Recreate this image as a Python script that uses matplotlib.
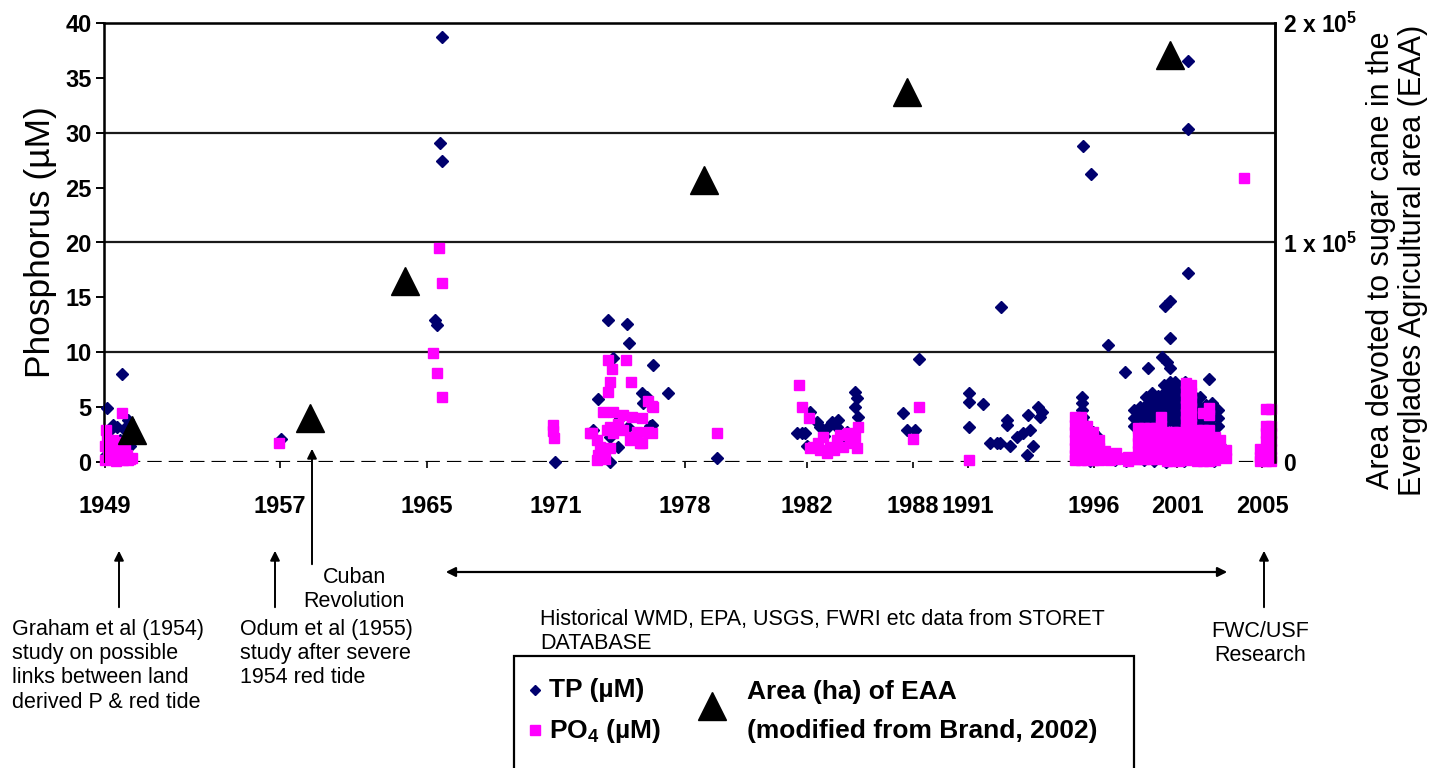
import numpy as np
import matplotlib
matplotlib.use("Agg")
import matplotlib.pyplot as plt
from matplotlib.lines import Line2D
from matplotlib.patches import Rectangle

plt.rcParams["font.family"] = ["Liberation Sans", "DejaVu Sans"]
plt.rcParams["mathtext.fontset"] = "custom"
plt.rcParams["mathtext.rm"] = "Liberation Sans"
plt.rcParams["mathtext.bf"] = "Liberation Sans:bold"

# x = position along the sample record (category axis, not linear in time)
year_labels = ["1949", "1957", "1965", "1971", "1978", "1982", "1988", "1991", "1996", "2001", "2005"]
year_pos = [1, 176, 323, 452, 581, 703, 809, 864, 990, 1073, 1158]

# total phosphorus (uM)
tp_pos = [3, 18, 13, 6, 11, 24, 26, 2, 16, 22, 9, 20,
          177,
          338, 336, 338, 331, 333,
          451,
          504, 523, 525, 509, 549, 564, 538, 494, 539, 546, 524, 516, 506, 514, 506, 489, 543, 548,
          613,
          698, 701, 706, 716, 723, 734, 733, 743, 751, 753, 751, 754, 703, 693, 728, 713, 720, 740,
          799, 803, 811, 815,
          865, 865, 879, 865, 897, 886, 896, 903, 903, 906, 913, 919, 924, 926, 923, 929, 934, 936, 938, 893,
          979, 987, 978, 978, 978, 979, 981, 985, 989, 994, 998, 999, 986, 1011, 1022,
          1084, 1084, 1084, 1061, 1066, 1066, 1004, 1021, 1044, 1058, 1063, 1066, 1105, 1071, 1081, 1074, 1078, 1121, 1117,
          1030, 1030, 1030,
          1036, 1036, 1036,
          1042, 1042, 1042, 1042,
          1048, 1048, 1048, 1048, 1048,
          1054, 1054, 1054, 1054, 1054,
          1060, 1060, 1060, 1060, 1060, 1060,
          1066, 1066, 1066, 1066, 1066, 1066,
          1072, 1072, 1072, 1072, 1072, 1072, 1072,
          1078, 1078, 1078, 1078, 1078, 1078,
          1090, 1090, 1090, 1090, 1090,
          1096, 1096, 1096, 1096,
          1102, 1102, 1102,
          1108, 1108, 1108, 1108, 1108,
          1114, 1114, 1114,
          1040, 1050, 1062, 1070, 1096, 1110, 1100, 1080]
tp_val = [4.9, 8.0, 3.2, 2.9, 1.5, 3.8, 1.5, 0.6, 2.0, 0.5, 3.4, 3.0,
          2.1,
          38.7, 29.1, 27.4, 12.9, 12.5,
          0.0,
          12.9, 12.6, 10.8, 9.5, 8.8, 6.3, 6.3, 5.7, 5.4, 3.3, 3.2, 4.0, 2.3, 1.4, 0.0, 2.9, 5.9, 3.4,
          0.4,
          2.6, 2.6, 4.6, 3.2, 3.1, 3.8, 3.2, 2.7, 6.4, 5.8, 5.0, 4.1, 1.5, 2.6, 3.6, 3.6, 2.4, 2.2,
          4.5, 2.9, 2.9, 9.4,
          6.3, 5.5, 5.3, 3.2, 14.1, 1.7, 1.7, 3.8, 3.4, 1.5, 2.3, 2.6, 4.3, 2.9, 0.6, 1.5, 5.0, 4.1, 4.6, 1.7,
          28.8, 26.2, 5.9, 5.4, 4.7, 4.1, 3.5, 3.0, 2.7, 2.3, 1.1, 0.4, 0.1, 0.2, 0.1,
          36.5, 30.3, 17.2, 14.2, 14.7, 11.3, 10.7, 8.2, 8.6, 9.6, 9.1, 8.6, 7.6, 7.3, 7.3, 6.6, 6.9, 1.1, 0.5,
          4.7, 4.0, 3.3,
          5.0, 4.3, 3.6,
          5.9, 5.2, 4.5, 3.8,
          6.3, 5.6, 4.9, 4.2, 3.5,
          6.0, 5.3, 4.6, 3.9, 3.2,
          7.0, 6.3, 5.6, 4.9, 4.2, 3.5,
          7.3, 6.6, 5.9, 5.2, 4.5, 3.8,
          7.0, 6.3, 5.6, 4.9, 4.2, 3.5, 2.8,
          6.5, 5.8, 5.1, 4.4, 3.7, 3.0,
          6.0, 5.3, 4.6, 3.9, 3.2,
          5.9, 5.0, 4.3, 3.6,
          5.2, 4.5, 3.8,
          5.4, 4.7, 4.0, 3.3, 2.6,
          4.7, 4.0, 3.3,
          0.2, 0.1, 0.0, 0.3, 0.2, 0.1, 0.4, 0.1]

# phosphate (uM)
po4_pos = [2, 1, 4, 6, 8, 9, 11, 13, 14, 16, 18, 19, 21, 23, 26, 28, 1, 7, 12, 3, 17, 24,
           175,
           335, 338, 329, 333, 338,
           449, 449, 450,
           504, 522, 508, 527, 506, 504, 544, 548, 499, 509, 519, 528, 538, 506, 503, 488, 493, 509,
           533, 544, 528, 538, 496, 506, 494, 501, 493, 526, 519, 486, 549, 548, 536, 514, 498,
           613,
           695, 698, 705, 706, 714, 723, 726, 733, 739, 746, 751, 754, 753, 719, 709, 736, 744, 730, 716,
           815, 809,
           865,
           971, 971, 971, 971, 971, 971, 971,
           977, 977, 977, 977, 977, 977, 977,
           983, 983, 983, 983, 983, 983,
           989, 989, 989, 989, 989,
           995, 995, 995, 995,
           1001, 1001,
           1006, 1006, 1012, 1012, 1018, 1024, 1024, 1030,
           1034, 1034, 1034, 1034, 1034,
           1040, 1040, 1040, 1040, 1040,
           1046, 1046, 1046, 1046, 1046,
           1052, 1052, 1052, 1052, 1052,
           1057, 1057, 1057, 1057, 1057, 1057,
           1063, 1063, 1063, 1063, 1063,
           1069, 1069, 1069, 1069, 1069,
           1075, 1075, 1075, 1075, 1075,
           1082, 1082, 1082, 1082, 1082, 1082, 1082, 1082, 1082, 1082, 1082,
           1087, 1087, 1087, 1087, 1087, 1087, 1087, 1087, 1087, 1087,
           1093, 1093, 1093, 1093, 1093,
           1099, 1099, 1099, 1099, 1099, 1099,
           1105, 1105, 1105, 1105, 1105, 1105, 1105,
           1111, 1111, 1111, 1111,
           1116, 1116, 1116,
           1122, 1122,
           1140,
           1156, 1156, 1156,
           1162, 1162, 1162, 1162, 1162, 1162, 1162,
           1167, 1167, 1167, 1167, 1167, 1167, 1167]
po4_val = [2.9, 1.5, 0.6, 1.1, 0.3, 2.0, 1.0, 0.5, 1.4, 0.8, 4.5, 0.2, 1.2, 0.6, 0.3, 0.4, 0.2, 0.9, 0.1, 2.0, 1.8, 0.2,
           1.7,
           19.5, 16.3, 9.9, 8.1, 5.9,
           3.4, 2.8, 2.2,
           9.3, 9.3, 8.5, 7.3, 7.3, 6.4, 5.6, 5.1, 4.6, 4.6, 4.3, 4.1, 4.0, 3.2, 2.9, 2.6, 2.0, 2.6,
           2.7, 2.7, 2.3, 1.7, 1.4, 1.3, 0.6, 0.3, 0.2, 2.0, 2.9, 2.6, 5.0, 2.6, 1.7, 3.5, 1.0,
           2.6,
           7.0, 5.0, 4.0, 1.3, 1.7, 0.8, 1.4, 2.0, 1.4, 1.7, 2.3, 3.2, 1.3, 2.3, 1.4, 2.5, 2.6, 1.1, 1.1,
           5.0, 2.1,
           0.2,
           4.1, 3.4, 2.7, 2.0, 1.3, 0.6, 0.2,
           4.1, 3.4, 2.7, 2.0, 1.3, 0.6, 0.2,
           3.3, 2.7, 2.0, 1.3, 0.6, 0.2,
           2.7, 2.0, 1.3, 0.6, 0.2,
           2.0, 1.3, 0.6, 0.2,
           1.0, 0.3,
           0.6, 0.2, 0.8, 0.3, 0.4, 0.5, 0.1, 0.3,
           3.1, 2.4, 1.7, 1.0, 0.3,
           3.1, 2.4, 1.7, 1.0, 0.3,
           3.1, 2.4, 1.7, 1.0, 0.3,
           3.1, 2.4, 1.7, 1.0, 0.3,
           4.1, 3.3, 2.6, 1.9, 1.2, 0.5,
           2.7, 2.0, 1.3, 0.6, 0.1,
           2.7, 2.0, 1.3, 0.6, 0.1,
           2.7, 2.0, 1.3, 0.6, 0.1,
           7.2, 6.5, 5.8, 5.1, 4.4, 3.7, 3.0, 2.3, 1.6, 0.9, 0.2,
           7.0, 6.3, 5.6, 4.9, 4.2, 3.5, 2.8, 2.1, 1.4, 0.7,
           2.9, 2.2, 1.5, 0.8, 0.1,
           4.5, 2.9, 2.2, 1.5, 0.8, 0.1,
           4.9, 4.3, 2.9, 2.2, 1.5, 0.8, 0.1,
           2.3, 1.6, 0.9, 0.2,
           2.0, 1.3, 0.6,
           1.1, 0.4,
           25.9,
           1.2, 0.5, 0.1,
           4.8, 3.3, 2.6, 1.9, 1.2, 0.5, 0.1,
           4.8, 3.3, 2.6, 1.9, 1.2, 0.5, 0.1]

# area (ha) of the Everglades Agricultural Area
eaa_pos = [28, 206, 301, 600, 803, 1066]
eaa_area = [14600, 20000, 82500, 128500, 168600, 185400]

W, H = 1439, 768
navy = "#00006e"
magenta = "#ff00ff"


def fp(x, y):
    # pixel position (from top-left) -> figure fraction
    return x / W, 1 - y / H


fig = plt.figure(figsize=(W / 100, H / 100), dpi=100)
ax = fig.add_axes([104 / W, 1 - 462 / H, (1275 - 104) / W, (462 - 23) / H])

ax.plot(tp_pos, tp_val, "D", ms=6.4, color=navy, ls="none", clip_on=False, zorder=3)
ax.plot(po4_pos, po4_val, "s", ms=7.4, color=magenta, ls="none", clip_on=False, zorder=4)

ax.set_xlim(0, 1171)
ax.set_ylim(0, 40)
for v in [10, 20, 30]:
    ax.axhline(v, color="#1a1a1a", lw=1.6, zorder=1)
ax.axhline(0, color="black", lw=2.3, ls=(0, (4.5, 2.2)), zorder=2)

for s in ["left", "top", "right"]:
    ax.spines[s].set_linewidth(1.8)
ax.spines["bottom"].set_visible(False)

ax.set_yticks(range(0, 41, 5))
ax.tick_params(axis="y", direction="out", length=6, width=1.4, labelsize=17, pad=3)
for t in ax.get_yticklabels():
    t.set_fontweight("bold")
ax.set_xticks(year_pos, year_labels)
ax.tick_params(axis="x", direction="out", length=4, width=1.2, labelsize=17, pad=20)
for t in ax.get_xticklabels():
    t.set_fontweight("bold")
ax.set_ylabel("Phosphorus (\u00b5M)", fontsize=25.5, labelpad=6)

ax2 = ax.twinx()
ax2.plot(eaa_pos, eaa_area, "^", ms=20, color="black", ls="none", clip_on=False)
ax2.set_ylim(0, 2e5)
ax2.set_yticks([0, 1e5, 2e5], ["0", r"1 x 10$^{\mathbf{5}}$", r"2 x 10$^{\mathbf{5}}$"])
ax2.tick_params(axis="y", length=0, labelsize=16.5, pad=6)
for t in ax2.get_yticklabels():
    t.set_fontweight("bold")
ax2.spines["right"].set_linewidth(1.8)
ax2.spines["bottom"].set_visible(False)

fig.text(*fp(1397, 260), "Area devoted to sugar cane in the\nEverglades Agricultural area (EAA)",
         rotation=90, ha="center", va="center", fontsize=22, linespacing=1.1)

# event markers below the time axis
arrow = dict(arrowstyle="-|>", color="black", lw=1.4, mutation_scale=14)
for x, y0, y1 in [(119, 610, 548), (275, 610, 548), (312, 567, 446), (1264, 610, 548)]:
    ax.annotate("", xy=fp(x, y1), xytext=fp(x, y0), xycoords="figure fraction",
                textcoords="figure fraction", arrowprops=arrow, annotation_clip=False)
ax.annotate("", xy=fp(443, 572), xytext=fp(1230, 572), xycoords="figure fraction",
            textcoords="figure fraction", annotation_clip=False,
            arrowprops=dict(arrowstyle="<|-|>", color="black", lw=1.6, mutation_scale=14))

note = dict(fontsize=15.5, va="top", linespacing=1.2)
fig.text(*fp(12, 619), "Graham et al (1954)\nstudy on possible\nlinks between land\nderived P & red tide",
         ha="left", **note)
fig.text(*fp(240, 619), "Odum et al (1955)\nstudy after severe\n1954 red tide", ha="left", **note)
fig.text(*fp(354, 567), "Cuban\nRevolution", ha="center", **note)
fig.text(*fp(540, 609), "Historical WMD, EPA, USGS, FWRI etc data from STORET\nDATABASE", ha="left", **note)
fig.text(*fp(1260, 621), "FWC/USF\nResearch", ha="center", **note)

# legend box
fig.add_artist(Rectangle(fp(514, 790), (1134 - 514) / W, (790 - 656) / H, transform=fig.transFigure,
                         fill=False, lw=1.6, ec="black", clip_on=False))
fig.add_artist(Line2D([535 / W], [1 - 690 / H], marker="D", ms=5.3, color=navy, ls="none",
                      transform=fig.transFigure))
fig.add_artist(Line2D([535 / W], [1 - 730 / H], marker="s", ms=6.8, color=magenta, ls="none",
                      transform=fig.transFigure))
fig.add_artist(Line2D([712 / W], [1 - 706 / H], marker="^", ms=20, color="black", ls="none",
                      transform=fig.transFigure))
leg = dict(fontsize=19, fontweight="bold", va="center", ha="left")
fig.text(*fp(549, 690), "TP (\u00b5M)", **leg)
fig.text(*fp(549, 731), "PO$_{\\mathbf{4}}$ (\u00b5M)", **leg)
fig.text(*fp(747, 692), "Area (ha) of EAA", **leg)
fig.text(*fp(747, 731), "(modified from Brand, 2002)", **leg)

fig.savefig("out.png", dpi=100)
